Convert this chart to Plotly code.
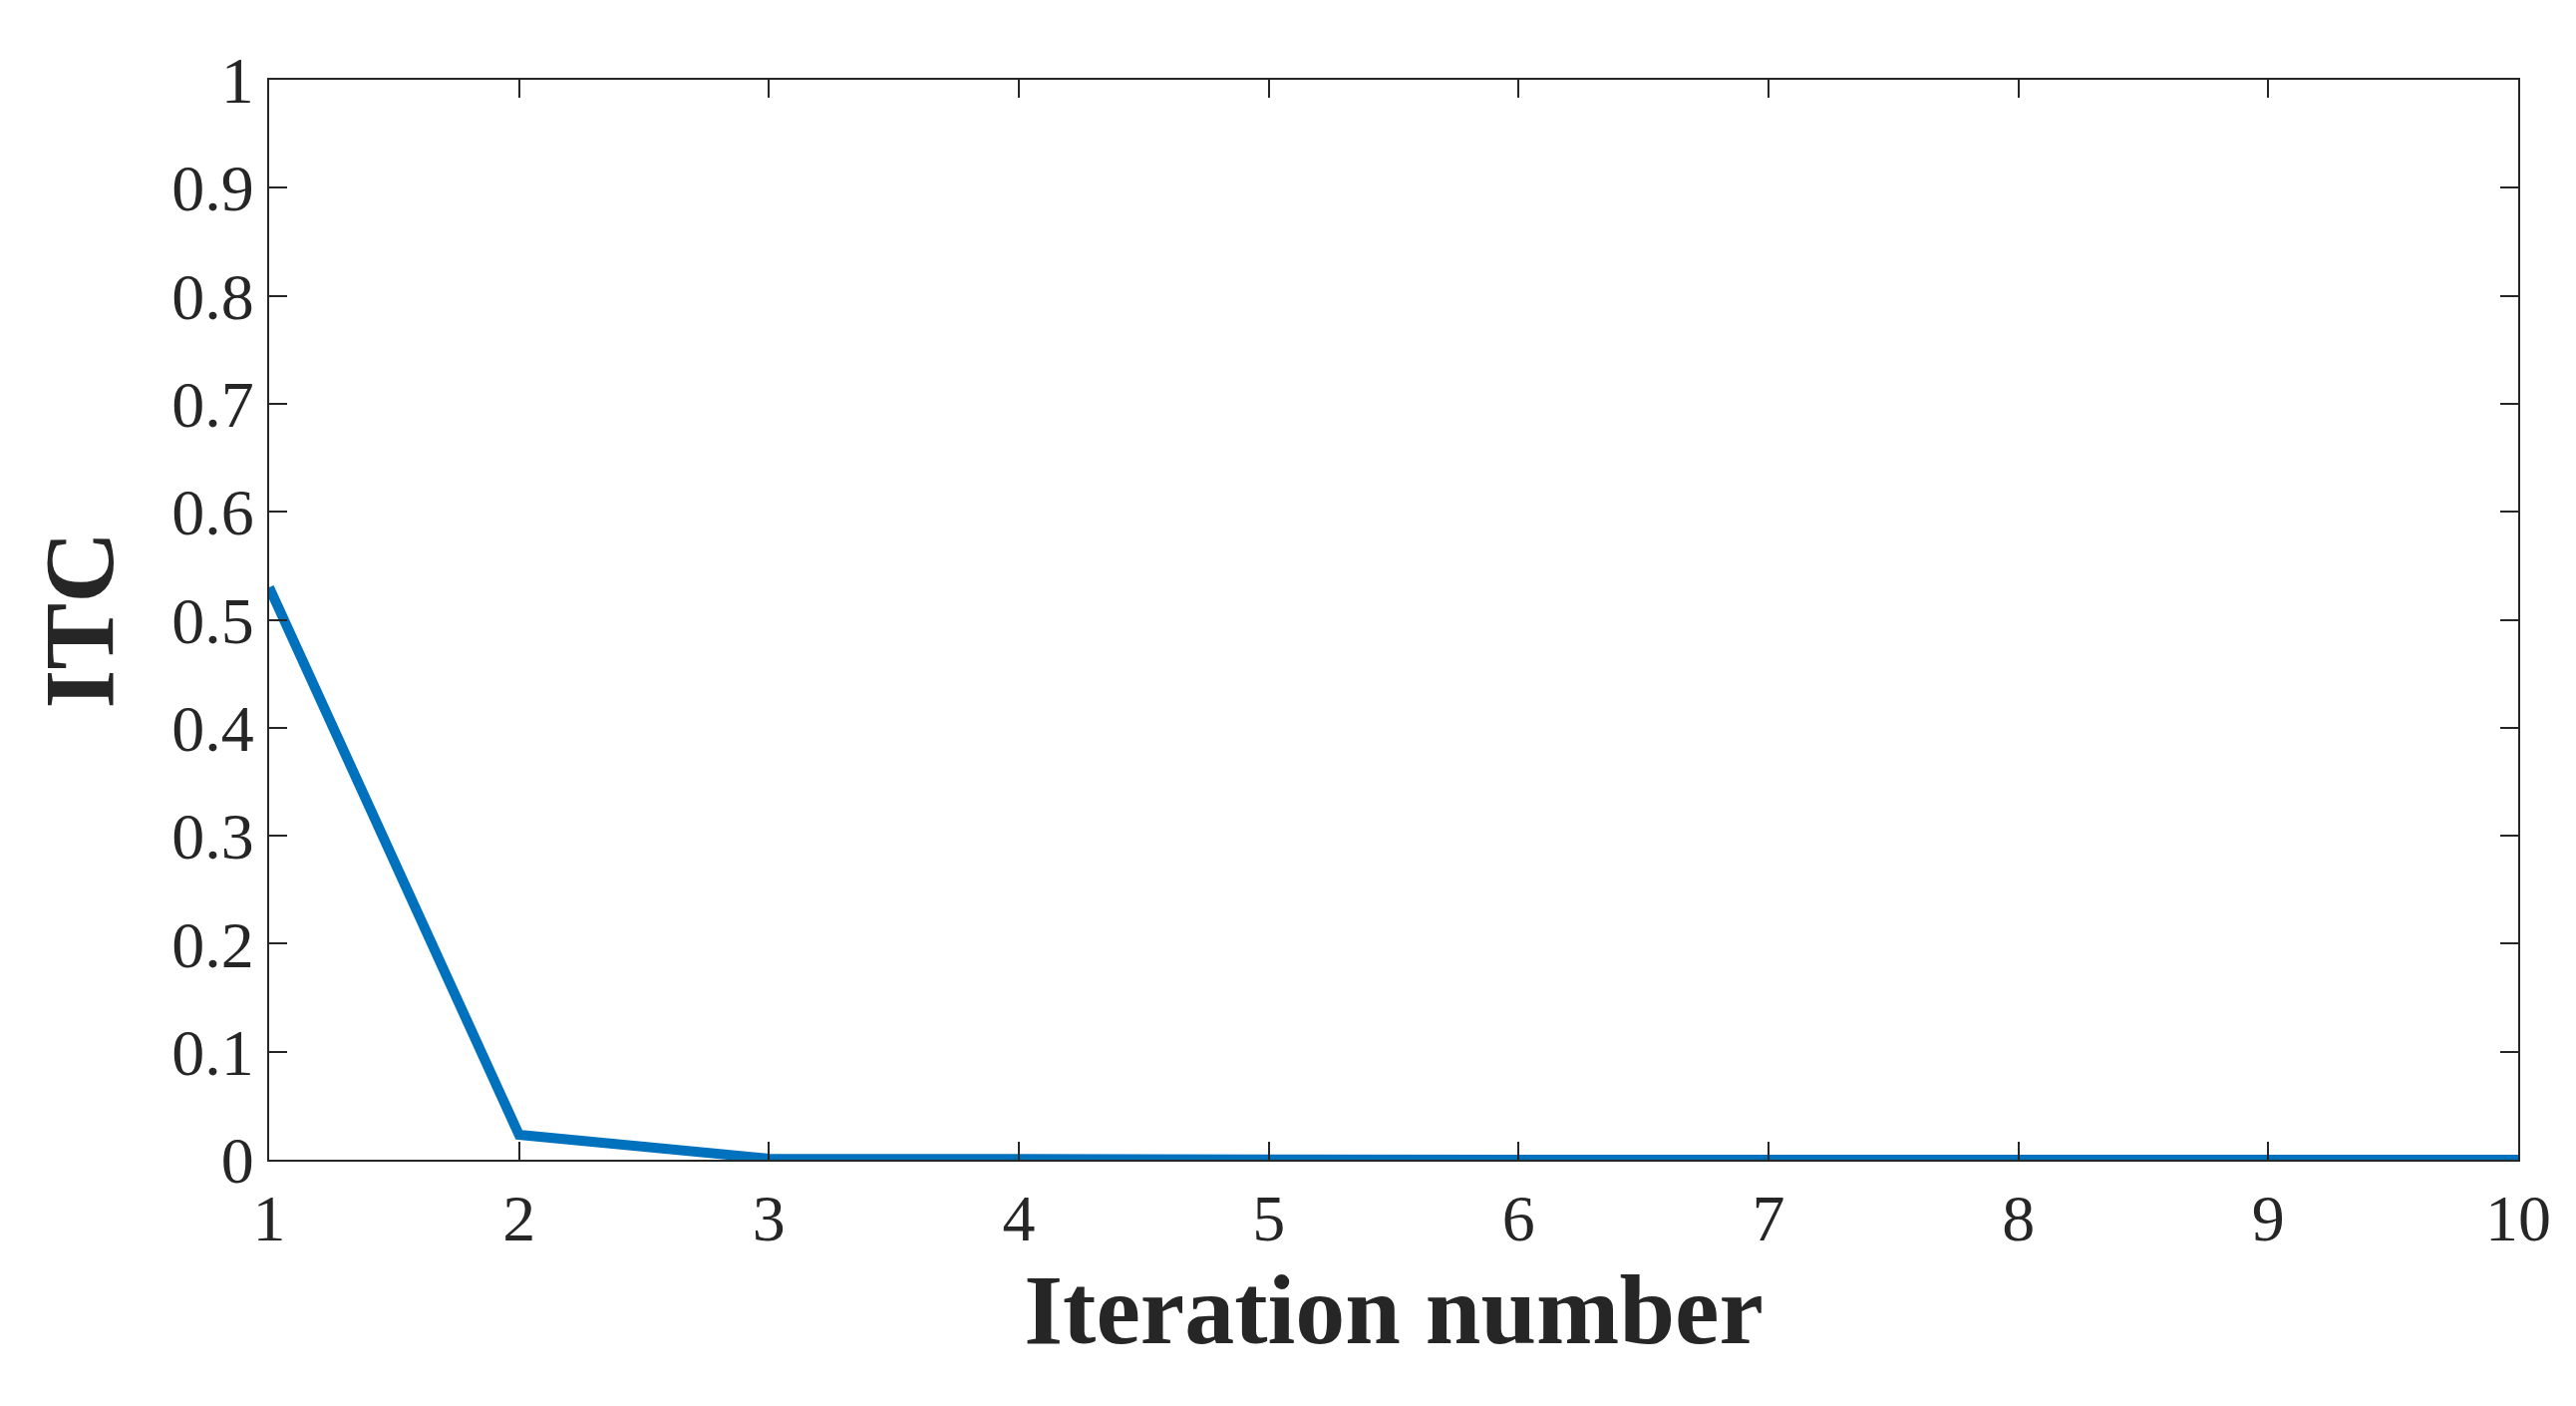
import plotly.graph_objects as go

iterations = [1, 2, 3, 4, 5, 6, 7, 8, 9, 10]
itc = [0.53, 0.023, 0.001, 0.0, 0.0, 0.0, 0.0, 0.0, 0.0, 0.0]

fig = go.Figure(go.Scatter(x=iterations, y=itc, mode="lines",
                           line=dict(color="#0072BD", width=10)))
font = "Liberation Serif"
axis_common = dict(showgrid=False, zeroline=False, showline=True, linecolor="#262626",
                   linewidth=2, mirror="ticks", ticks="inside", ticklen=18,
                   tickcolor="#262626", tickwidth=2,
                   tickfont=dict(family=font, size=66, color="#262626"))
fig.update_xaxes(range=[1, 10], dtick=1,
                 title=dict(text="<b>Iteration number</b>", font=dict(family=font, size=100, color="#262626"), standoff=5),
                 **axis_common)
fig.update_yaxes(range=[0, 1], dtick=0.1, tickformat="~g",
                 title=dict(text="<b>ITC</b>", font=dict(family=font, size=100, color="#262626"), standoff=25),
                 **axis_common)
fig.update_layout(width=2584, height=1410, plot_bgcolor="white", paper_bgcolor="white",
                  showlegend=False, margin=dict(l=262, r=66, t=72, b=255))
fig.write_html("out.html")
